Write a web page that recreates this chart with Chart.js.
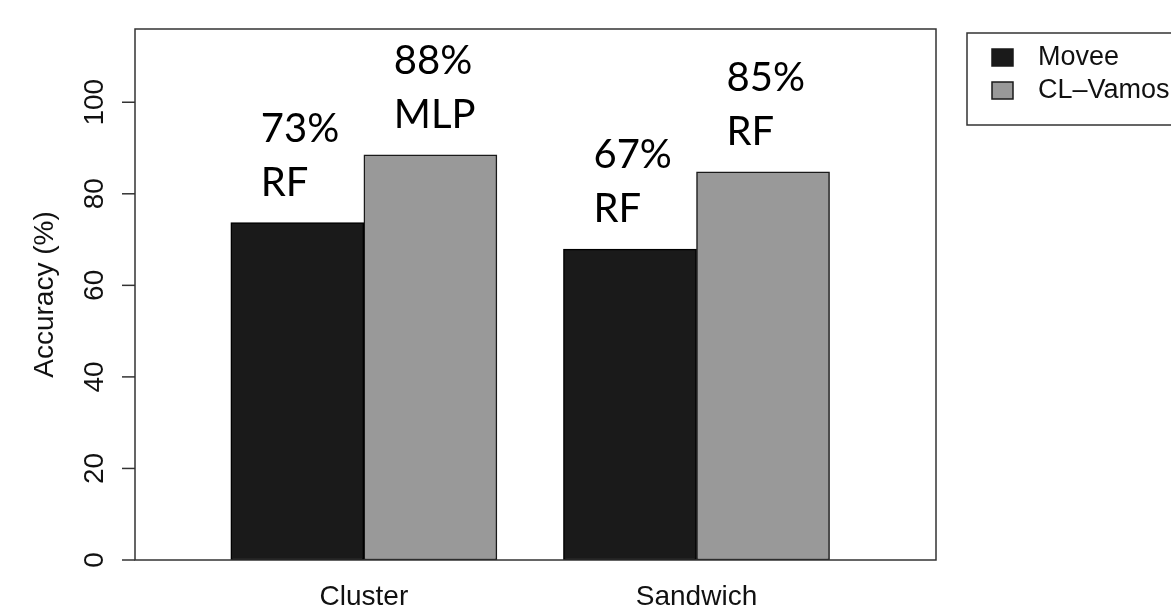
<!DOCTYPE html>
<html>
<head>
<meta charset="utf-8">
<script src="https://cdn.jsdelivr.net/npm/chart.js@4.4.0/dist/chart.umd.min.js"></script>
<style>
  html, body { margin: 0; padding: 0; background: #fff; }
  #wrap { width: 1171px; height: 610px; }
</style>
</head>
<body>
<div id="wrap"><canvas id="accChart" width="1171" height="610"></canvas></div>
<script>
// --- data ---
const categories = ["Cluster", "Sandwich"];
const seriesNames = ["Movee", "CL–Vamos"];
const moveeValues = [73.7, 67.9];
const vamosValues = [88.5, 84.8];
const moveeNotes = [["73%", "RF"], ["67%", "RF"]];
const vamosNotes = [["88%", "MLP"], ["85%", "RF"]];
const yTicks = [0, 20, 40, 60, 80, 100];

const AXIS_FONT = "28px 'Liberation Sans', Arial, sans-serif";
const NOTE_FONT = "40px Lato, 'Open Sans', sans-serif";

// group centre in x units: bar width = 1, half a bar gap between groups
const groupCenter = (i) => 2 + 2.5 * i;

// --- R-like frame, axes, legend and the hand-added notes ---
const rStyle = {
    id: "rStyle",
    afterDraw(chart) {
        const { ctx, chartArea: a, scales } = chart;
        const xs = scales.x, ys = scales.y;
        ctx.save();

        // frame
        ctx.strokeStyle = "#333";
        ctx.lineWidth = 1.5;
        ctx.strokeRect(a.left, a.top, a.right - a.left, a.bottom - a.top);

        // y axis ticks + rotated labels
        ctx.fillStyle = "#111";
        ctx.font = AXIS_FONT;
        ctx.textAlign = "center";
        ctx.textBaseline = "middle";
        ys.ticks.forEach((t) => {
            const py = ys.getPixelForValue(t.value);
            ctx.beginPath();
            ctx.moveTo(a.left - 13, py);
            ctx.lineTo(a.left, py);
            ctx.stroke();
            ctx.save();
            ctx.translate(a.left - 40, py);
            ctx.rotate(-Math.PI / 2);
            ctx.fillText(String(t.value), 0, 0);
            ctx.restore();
        });

        // y title
        ctx.save();
        ctx.translate(a.left - 90, (a.top + a.bottom) / 2);
        ctx.rotate(-Math.PI / 2);
        ctx.fillText("Accuracy (%)", 0, 0);
        ctx.restore();

        // category names
        xs.ticks.forEach((t, i) => {
            ctx.fillText(categories[i], xs.getPixelForValue(t.value), a.bottom + 37);
        });

        // legend (runs off the right edge like the original)
        ctx.strokeRect(a.right + 31, a.top + 4, 300, 92);
        ctx.textAlign = "left";
        ctx.font = "27px 'Liberation Sans', Arial, sans-serif";
        chart.data.datasets.forEach((ds, i) => {
            const cy = a.top + 28.5 + i * 33;
            ctx.fillStyle = ds.backgroundColor;
            ctx.fillRect(a.right + 56, cy - 8.5, 21, 17);
            ctx.strokeStyle = "#1a1a1a";
            ctx.strokeRect(a.right + 56, cy - 8.5, 21, 17);
            ctx.fillStyle = "#111";
            ctx.fillText(ds.label, a.right + 102, cy);
        });

        // notes above bars
        ctx.font = NOTE_FONT;
        ctx.fillStyle = "#000";
        ctx.textBaseline = "alphabetic";
        chart.data.datasets.forEach((ds, i) => {
            chart.getDatasetMeta(i).data.forEach((bar, j) => {
                const lines = ds.notes[j];
                const x0 = bar.x - bar.width / 2 + 30;
                const base = bar.y - 27;
                ctx.fillText(lines[0], x0, base - 54);
                ctx.fillText(lines[1], x0, base);
            });
        });

        ctx.restore();
    },
};

new Chart(document.getElementById("accChart"), {
    type: "bar",
    data: {
        datasets: [
            {
                label: seriesNames[0],
                data: moveeValues.map((v, i) => ({ x: groupCenter(i) - 0.5, y: v })),
                backgroundColor: "#1a1a1a",
                borderColor: "#000",
                borderWidth: 1.5,
                notes: moveeNotes,
            },
            {
                label: seriesNames[1],
                data: vamosValues.map((v, i) => ({ x: groupCenter(i) + 0.5, y: v })),
                backgroundColor: "#999999",
                borderColor: "#1a1a1a",
                borderWidth: 1.5,
                notes: vamosNotes,
            },
        ],
    },
    options: {
        responsive: false,
        animation: false,
        devicePixelRatio: 1,
        layout: { padding: { left: 135, right: 235, top: 29, bottom: 50 } },
        datasets: {
            bar: { grouped: false, barPercentage: 1, categoryPercentage: 1, borderSkipped: false },
        },
        plugins: { legend: { display: false }, tooltip: { enabled: false } },
        scales: {
            x: {
                type: "linear",
                min: 0.28,
                max: 6.3,
                offset: false,
                display: false,
                afterBuildTicks: (s) => {
                    s.ticks = categories.map((c, i) => ({ value: groupCenter(i) }));
                },
            },
            y: {
                min: 0,
                max: 116,
                display: false,
                afterBuildTicks: (s) => {
                    s.ticks = yTicks.map((v) => ({ value: v }));
                },
            },
        },
    },
    plugins: [rStyle],
});
</script>
</body>
</html>
